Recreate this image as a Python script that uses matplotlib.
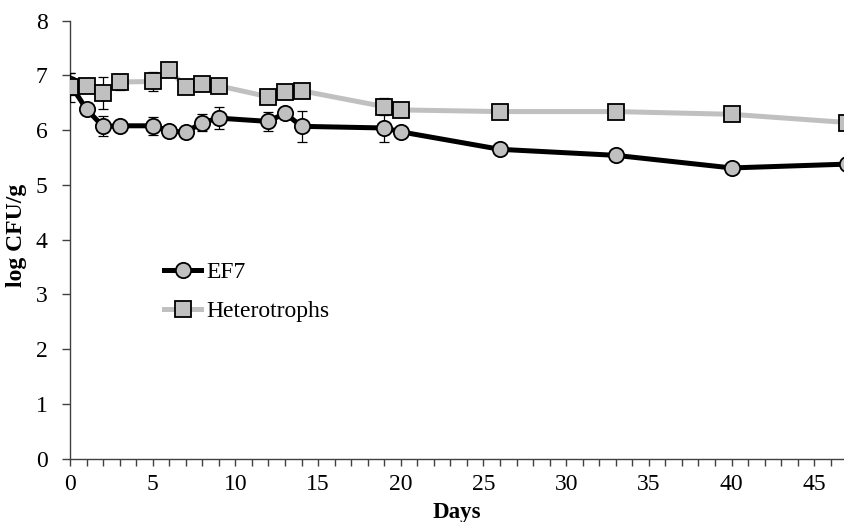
import matplotlib
matplotlib.use("Agg")
import matplotlib.pyplot as plt
from matplotlib.ticker import MultipleLocator

# data
days_ef7 = [0, 1, 2, 3, 5, 6, 7, 8, 9, 12, 13, 14, 19, 20, 26, 33, 40, 47]
ef7 = [6.85, 6.38, 6.07, 6.08, 6.08, 5.99, 5.96, 6.14, 6.22, 6.16, 6.31, 6.07,
       6.04, 5.97, 5.65, 5.54, 5.31, 5.38]
ef7_err = [0.20, 0.08, 0.18, 0.08, 0.16, 0.08, 0.08, 0.15, 0.20, 0.17, 0.08, 0.28,
           0.25, 0.08, 0.08, 0.08, 0.08, 0.08]

days_het = [0, 1, 2, 3, 5, 6, 7, 8, 9, 12, 13, 14, 19, 20, 26, 33, 40, 47]
het = [6.78, 6.80, 6.68, 6.88, 6.89, 7.10, 6.79, 6.84, 6.81, 6.61, 6.69, 6.72,
       6.43, 6.37, 6.34, 6.34, 6.29, 6.14]
het_err = [0.27, 0.08, 0.29, 0.15, 0.18, 0.08, 0.08, 0.08, 0.08, 0.08, 0.08, 0.08,
           0.15, 0.08, 0.08, 0.08, 0.08, 0.08]

labels = ["EF7", "Heterotrophs"]

plt.rcParams['font.family'] = ['Liberation Serif', 'DejaVu Serif']

fig = plt.figure(figsize=(8.44, 5.22), dpi=100)
ax = fig.add_axes([0.0829, 0.1216, 0.9171, 0.8387])

grey = "#c0c0c0"

# EF7
ax.errorbar(days_ef7, ef7, yerr=ef7_err, fmt="none", ecolor="black",
            elinewidth=0.9, capsize=3.5, capthick=0.9, zorder=2)
ax.plot(days_ef7, ef7, color="black", lw=3.6, marker="o", markersize=11,
        markerfacecolor=grey, markeredgecolor="black", markeredgewidth=1.3,
        label=labels[0], zorder=3)

# Heterotrophs
ax.errorbar(days_het, het, yerr=het_err, fmt="none", ecolor="black",
            elinewidth=0.9, capsize=3.5, capthick=0.9, zorder=4)
ax.plot(days_het, het, color=grey, lw=3.6, marker="s", markersize=11.5,
        markerfacecolor=grey, markeredgecolor="black", markeredgewidth=1.3,
        label=labels[1], zorder=5)

ax.set_xlim(0, 46.8)
ax.set_ylim(0, 8)
ax.xaxis.set_major_locator(MultipleLocator(5))
ax.xaxis.set_minor_locator(MultipleLocator(1))
ax.yaxis.set_major_locator(MultipleLocator(1))

for s in ["top", "right"]:
    ax.spines[s].set_visible(False)
for s in ["left", "bottom"]:
    ax.spines[s].set_color("#404040")
    ax.spines[s].set_linewidth(1.0)

ax.tick_params(axis="y", which="major", direction="out", length=6,
               width=1.0, color="#404040", labelsize=17, pad=10)
ax.tick_params(axis="x", which="major", direction="out", length=5,
               width=1.0, color="#404040", labelsize=17, pad=6)
ax.tick_params(axis="x", which="minor", direction="out", length=5,
               width=1.0, color="#404040")

ax.set_xlabel("Days", fontsize=16.5, fontweight="bold")
ax.set_ylabel("log CFU/g", fontsize=17, fontweight="bold")
ax.xaxis.set_label_coords(0.5, -0.10)
ax.yaxis.set_label_coords(-0.056, 0.51)

for sp in ax.spines.values():
    sp.set_clip_on(False)

ax.legend(loc="upper left", bbox_to_anchor=(0.121, 0.45), frameon=False,
          fontsize=17, handlelength=1.6, handletextpad=0.2, labelspacing=0.74,
          borderpad=0, borderaxespad=0)

fig.savefig("out.png", dpi=100)
